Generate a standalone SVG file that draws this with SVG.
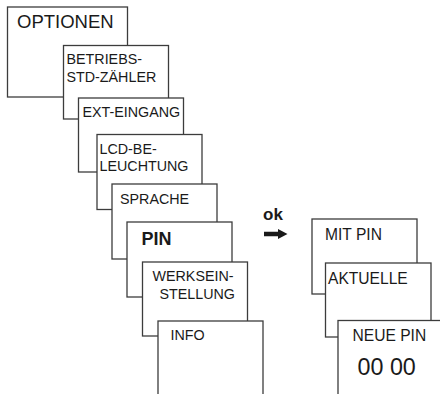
<svg xmlns="http://www.w3.org/2000/svg" width="440" height="394" viewBox="0 0 440 394">
<style>
.box{fill:#fff;stroke:#3c3c3c;stroke-width:1.3}
.t{font-family:"Liberation Sans",Arial,sans-serif;font-size:14.3px;fill:#1a1a1a}
.r{font-size:15.6px}
.big{font-size:18.5px}
.b{font-weight:bold}
</style>
<rect width="440" height="394" fill="#fff"/>
<g id="optionen"><rect class="box" x="7.5" y="7" width="120" height="90"/><text class="t big" x="17" y="28">OPTIONEN</text></g>
<g id="betriebs"><rect class="box" x="63.5" y="45.5" width="105" height="73.5"/><text class="t" x="66.5" y="63.5">BETRIEBS-</text><text class="t" x="66.5" y="81.5">STD-ZÄHLER</text></g>
<g id="ext"><rect class="box" x="78.5" y="98" width="105" height="74"/><text class="t" x="82.5" y="116.5">EXT-EINGANG</text></g>
<g id="lcd"><rect class="box" x="97" y="134.5" width="105" height="75"/><text class="t" x="99.5" y="154">LCD-BE-</text><text class="t" x="99.5" y="171">LEUCHTUNG</text></g>
<g id="sprache"><rect class="box" x="112" y="184" width="105" height="75"/><text class="t" x="120" y="204">SPRACHE</text></g>
<g id="pin"><rect class="box" x="127" y="222" width="105" height="75"/><text class="t b" style="font-size:18px" x="141.5" y="245">PIN</text></g>
<g id="werk"><rect class="box" x="142.5" y="262" width="105" height="74"/><text class="t" x="152.5" y="281">WERKSEIN-</text><text class="t" x="159.5" y="298.5">STELLUNG</text></g>
<g id="info"><rect class="box" x="158" y="321" width="105" height="80"/><text class="t" x="170.5" y="339.5">INFO</text></g>
<g id="mitpin"><rect class="box" x="312" y="219" width="105" height="75"/><text class="t r" x="325" y="240">MIT PIN</text></g>
<g id="aktuelle"><rect class="box" x="325.5" y="263" width="105.5" height="74"/><text class="t r" x="328" y="284">AKTUELLE</text></g>
<g id="neuepin"><rect class="box" x="338" y="320.5" width="105" height="80"/><text class="t r" x="352.5" y="340.5">NEUE PIN</text><text class="t" style="font-size:23.3px" x="357.5" y="375">00 00</text></g>
<g id="connectors">
<text class="t b" style="font-size:17px" x="263" y="220">ok</text>
<path d="M264 231.8H278V229L287.5 234L278 239V236.2H264Z" fill="#1a1a1a"/>
</g>
</svg>
